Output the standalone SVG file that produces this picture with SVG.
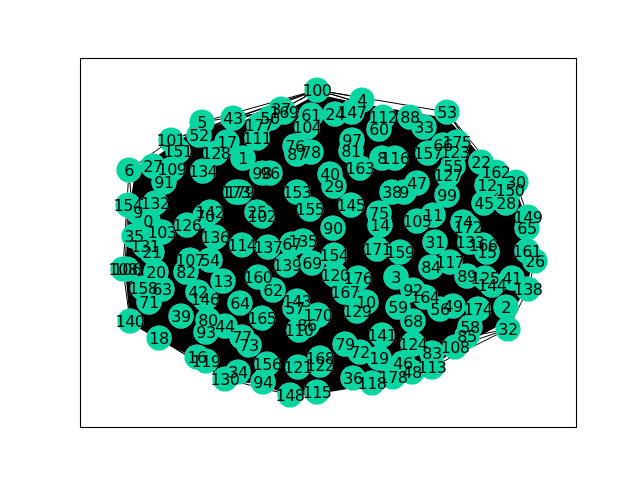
<svg xmlns="http://www.w3.org/2000/svg" width="640" height="480" viewBox="0 0 640 480">
<style>
.e{stroke:#000;stroke-width:1;fill:none}
.n circle{r:12.6px;mix-blend-mode:darken}
.n text{font:16px "DejaVu Sans",sans-serif;letter-spacing:-.5px;fill:#000;stroke:none;text-anchor:middle;dominant-baseline:central}
</style>
<defs><mask id="m" maskUnits="userSpaceOnUse" x="0" y="0" width="640" height="480"><rect width="640" height="480" fill="#fff"/><use href="#nodes" fill="#000"/></mask></defs>
<rect width="640" height="480" fill="#fff"/>
<rect x="80.5" y="58.5" width="496" height="369" fill="none" stroke="#000" stroke-width="1.1"/>
<g id="connectors" class="e" mask="url(#m)">
<path fill="#000" stroke="none" d="M317 94L362 104L447 118L481 156L516 190L526 217L533 262L526 289L506 322L455 349L432 369L393 379L372 385L317 394L290 397L263 384L225 381L197 359L159 340L130 323L125 269L130 205L135 172L171 146L202 127L233 122L281 114Z"/>
<path d="M317 90L447 112M317 90L424 122M317 90L410 117M317 90L362 98M317 90L233 118M317 90L202 122M317 90L281 110M317 90L255 125M317 90L199 135M317 90L171 140M317 90L300 100M447 112L481 162M447 112L486 166M447 112L496 172M506 203L528 217M516 182L528 217M510 190L535 262M528 217L535 262M535 262L528 289M528 289L508 329M506 307L508 329M508 329L455 347M508 329L432 367M508 329L467 337M508 329L478 309M455 347L432 367M455 347L393 377M432 367L372 383M413 372L353 378M393 377L317 392M372 383L290 395M353 378L263 382M317 392L263 382M290 395L225 379M263 382L197 357M225 379L159 338M206 361L159 338M197 357L130 321M159 338L130 321M159 338L123 269M130 321L123 269M130 321L128 205M149 302L128 205M123 269L129 170M134 236L129 170M128 205L153 166M129 170L171 140M153 166L202 122M178 151L233 118M171 140L233 118M202 122L281 110M233 118L281 110M153 166L199 135M129 170L178 151M130 321L134 236M143 288L128 205M125 269L128 205M197 357L206 361M130 321L225 379"/>
</g>
<g fill="#05d5a0"><g id="nodes">
<g id="n5" class="n"><circle cx="202" cy="122"/><text x="202" y="122">5</text></g>
<g id="n43" class="n"><circle cx="233" cy="118"/><text x="233" y="118">43</text></g>
<g id="n52" class="n"><circle cx="199" cy="135"/><text x="199" y="135">52</text></g>
<g id="n101" class="n"><circle cx="171" cy="140"/><text x="171" y="140">101</text></g>
<g id="n151" class="n"><circle cx="178" cy="151"/><text x="178" y="151">151</text></g>
<g id="n17" class="n"><circle cx="227" cy="142"/><text x="227" y="142">17</text></g>
<g id="n128" class="n"><circle cx="216" cy="153"/><text x="216" y="153">128</text></g>
<g id="n1" class="n"><circle cx="243" cy="158"/><text x="243" y="158">1</text></g>
<g id="n27" class="n"><circle cx="153" cy="166"/><text x="153" y="166">27</text></g>
<g id="n109" class="n"><circle cx="172" cy="169"/><text x="172" y="169">109</text></g>
<g id="n6" class="n"><circle cx="129" cy="170"/><text x="129" y="170">6</text></g>
<g id="n134" class="n"><circle cx="203" cy="171"/><text x="203" y="171">134</text></g>
<g id="n91" class="n"><circle cx="164" cy="182"/><text x="164" y="182">91</text></g>
<g id="n98" class="n"><circle cx="262" cy="173"/><text x="262" y="173">98</text></g>
<g id="n96" class="n"><circle cx="270" cy="173"/><text x="270" y="173">96</text></g>
<g id="n179" class="n"><circle cx="240" cy="192"/><text x="240" y="192">179</text></g>
<g id="n173" class="n"><circle cx="236" cy="192"/><text x="236" y="192">173</text></g>
<g id="n154" class="n"><circle cx="128" cy="205"/><text x="128" y="205">154</text></g>
<g id="n132" class="n"><circle cx="155" cy="203"/><text x="155" y="203">132</text></g>
<g id="n9" class="n"><circle cx="138" cy="212"/><text x="138" y="212">9</text></g>
<g id="n0" class="n"><circle cx="148" cy="221"/><text x="148" y="221">0</text></g>
<g id="n103" class="n"><circle cx="162" cy="232"/><text x="162" y="232">103</text></g>
<g id="n35" class="n"><circle cx="134" cy="236"/><text x="134" y="236">35</text></g>
<g id="n131" class="n"><circle cx="145" cy="246"/><text x="145" y="246">131</text></g>
<g id="n21" class="n"><circle cx="152" cy="252"/><text x="152" y="252">21</text></g>
<g id="n126" class="n"><circle cx="187" cy="225"/><text x="187" y="225">126</text></g>
<g id="n142" class="n"><circle cx="210" cy="212"/><text x="210" y="212">142</text></g>
<g id="n70" class="n"><circle cx="205" cy="216"/><text x="205" y="216">70</text></g>
<g id="n136" class="n"><circle cx="215" cy="237"/><text x="215" y="237">136</text></g>
<g id="n114" class="n"><circle cx="242" cy="245"/><text x="242" y="245">114</text></g>
<g id="n25" class="n"><circle cx="257" cy="212"/><text x="257" y="212">25</text></g>
<g id="n102" class="n"><circle cx="262" cy="216"/><text x="262" y="216">102</text></g>
<g id="n100" class="n"><circle cx="317" cy="90"/><text x="317" y="90">100</text></g>
<g id="n4" class="n"><circle cx="362" cy="100"/><text x="362" y="100">4</text></g>
<g id="n147" class="n"><circle cx="352" cy="112"/><text x="352" y="112">147</text></g>
<g id="n24" class="n"><circle cx="335" cy="114"/><text x="335" y="114">24</text></g>
<g id="n37" class="n"><circle cx="281" cy="109"/><text x="281" y="109">37</text></g>
<g id="n169" class="n"><circle cx="284" cy="112"/><text x="284" y="112">169</text></g>
<g id="n50" class="n"><circle cx="270" cy="118"/><text x="270" y="118">50</text></g>
<g id="n61" class="n"><circle cx="311" cy="115"/><text x="311" y="115">61</text></g>
<g id="n104" class="n"><circle cx="307" cy="127"/><text x="307" y="127">104</text></g>
<g id="n76" class="n"><circle cx="295" cy="146"/><text x="295" y="146">76</text></g>
<g id="n87" class="n"><circle cx="297" cy="154"/><text x="297" y="154">87</text></g>
<g id="n78" class="n"><circle cx="311" cy="152"/><text x="311" y="152">78</text></g>
<g id="n177" class="n"><circle cx="259" cy="125"/><text x="259" y="125">177</text></g>
<g id="n111" class="n"><circle cx="257" cy="138"/><text x="257" y="138">111</text></g>
<g id="n112" class="n"><circle cx="383" cy="117"/><text x="383" y="117">112</text></g>
<g id="n60" class="n"><circle cx="379" cy="129"/><text x="379" y="129">60</text></g>
<g id="n97" class="n"><circle cx="352" cy="140"/><text x="352" y="140">97</text></g>
<g id="n81" class="n"><circle cx="351" cy="151"/><text x="351" y="151">81</text></g>
<g id="n8" class="n"><circle cx="382" cy="158"/><text x="382" y="158">8</text></g>
<g id="n116" class="n"><circle cx="395" cy="158"/><text x="395" y="158">116</text></g>
<g id="n163" class="n"><circle cx="360" cy="168"/><text x="360" y="168">163</text></g>
<g id="n40" class="n"><circle cx="330" cy="174"/><text x="330" y="174">40</text></g>
<g id="n29" class="n"><circle cx="334" cy="186"/><text x="334" y="186">29</text></g>
<g id="n153" class="n"><circle cx="297" cy="192"/><text x="297" y="192">153</text></g>
<g id="n155" class="n"><circle cx="310" cy="209"/><text x="310" y="209">155</text></g>
<g id="n145" class="n"><circle cx="351" cy="205"/><text x="351" y="205">145</text></g>
<g id="n38" class="n"><circle cx="392" cy="192"/><text x="392" y="192">38</text></g>
<g id="n89b" class="n"><circle cx="404" cy="192"/><text x="404" y="192">9</text></g>
<g id="n47" class="n"><circle cx="417" cy="183"/><text x="417" y="183">47</text></g>
<g id="n75" class="n"><circle cx="379" cy="213"/><text x="379" y="213">75</text></g>
<g id="n14" class="n"><circle cx="380" cy="225"/><text x="380" y="225">14</text></g>
<g id="n90" class="n"><circle cx="333" cy="228"/><text x="333" y="228">90</text></g>
<g id="n105" class="n"><circle cx="417" cy="221"/><text x="417" y="221">105</text></g>
<g id="n11" class="n"><circle cx="433" cy="215"/><text x="433" y="215">11</text></g>
<g id="n53" class="n"><circle cx="447" cy="112"/><text x="447" y="112">53</text></g>
<g id="n88" class="n"><circle cx="410" cy="117"/><text x="410" y="117">88</text></g>
<g id="n33" class="n"><circle cx="424" cy="127"/><text x="424" y="127">33</text></g>
<g id="n157" class="n"><circle cx="428" cy="153"/><text x="428" y="153">157</text></g>
<g id="n66" class="n"><circle cx="443" cy="145"/><text x="443" y="145">66</text></g>
<g id="n175" class="n"><circle cx="457" cy="142"/><text x="457" y="142">175</text></g>
<g id="n123" class="n"><circle cx="455" cy="152"/><text x="455" y="152">123</text></g>
<g id="n55" class="n"><circle cx="453" cy="166"/><text x="453" y="166">55</text></g>
<g id="n127" class="n"><circle cx="448" cy="175"/><text x="448" y="175">127</text></g>
<g id="n99" class="n"><circle cx="447" cy="195"/><text x="447" y="195">99</text></g>
<g id="n22" class="n"><circle cx="481" cy="162"/><text x="481" y="162">22</text></g>
<g id="n162" class="n"><circle cx="496" cy="172"/><text x="496" y="172">162</text></g>
<g id="n12" class="n"><circle cx="487" cy="185"/><text x="487" y="185">12</text></g>
<g id="n30" class="n"><circle cx="516" cy="182"/><text x="516" y="182">30</text></g>
<g id="n150" class="n"><circle cx="510" cy="190"/><text x="510" y="190">150</text></g>
<g id="n45" class="n"><circle cx="484" cy="203"/><text x="484" y="203">45</text></g>
<g id="n28" class="n"><circle cx="506" cy="203"/><text x="506" y="203">28</text></g>
<g id="n149" class="n"><circle cx="528" cy="217"/><text x="528" y="217">149</text></g>
<g id="n65" class="n"><circle cx="527" cy="228"/><text x="527" y="228">65</text></g>
<g id="n74" class="n"><circle cx="463" cy="222"/><text x="463" y="222">74</text></g>
<g id="n172" class="n"><circle cx="468" cy="227"/><text x="468" y="227">172</text></g>
<g id="n31" class="n"><circle cx="435" cy="242"/><text x="435" y="242">31</text></g>
<g id="n133" class="n"><circle cx="470" cy="242"/><text x="470" y="242">133</text></g>
<g id="n166" class="n"><circle cx="483" cy="245"/><text x="483" y="245">166</text></g>
<g id="n15" class="n"><circle cx="487" cy="252"/><text x="487" y="252">15</text></g>
<g id="n161" class="n"><circle cx="527" cy="251"/><text x="527" y="251">161</text></g>
<g id="n26" class="n"><circle cx="535" cy="261"/><text x="535" y="261">26</text></g>
<g id="n159" class="n"><circle cx="400" cy="252"/><text x="400" y="252">159</text></g>
<g id="n84" class="n"><circle cx="431" cy="267"/><text x="431" y="267">84</text></g>
<g id="n117" class="n"><circle cx="450" cy="262"/><text x="450" y="262">117</text></g>
<g id="n89" class="n"><circle cx="467" cy="276"/><text x="467" y="276">89</text></g>
<g id="n125" class="n"><circle cx="485" cy="278"/><text x="485" y="278">125</text></g>
<g id="n144" class="n"><circle cx="492" cy="285"/><text x="492" y="285">144</text></g>
<g id="n41" class="n"><circle cx="512" cy="278"/><text x="512" y="278">41</text></g>
<g id="n138" class="n"><circle cx="528" cy="289"/><text x="528" y="289">138</text></g>
<g id="n3" class="n"><circle cx="396" cy="277"/><text x="396" y="277">3</text></g>
<g id="n92" class="n"><circle cx="413" cy="290"/><text x="413" y="290">92</text></g>
<g id="n164" class="n"><circle cx="425" cy="297"/><text x="425" y="297">164</text></g>
<g id="n56" class="n"><circle cx="440" cy="309"/><text x="440" y="309">56</text></g>
<g id="n49" class="n"><circle cx="453" cy="306"/><text x="453" y="306">49</text></g>
<g id="n174" class="n"><circle cx="478" cy="309"/><text x="478" y="309">174</text></g>
<g id="n2" class="n"><circle cx="506" cy="307"/><text x="506" y="307">2</text></g>
<g id="n32" class="n"><circle cx="508" cy="329"/><text x="508" y="329">32</text></g>
<g id="n59" class="n"><circle cx="398" cy="307"/><text x="398" y="307">59</text></g>
<g id="n68" class="n"><circle cx="413" cy="321"/><text x="413" y="321">68</text></g>
<g id="n58" class="n"><circle cx="470" cy="327"/><text x="470" y="327">58</text></g>
<g id="n85" class="n"><circle cx="467" cy="336"/><text x="467" y="336">85</text></g>
<g id="n108" class="n"><circle cx="455" cy="347"/><text x="455" y="347">108</text></g>
<g id="n124" class="n"><circle cx="413" cy="344"/><text x="413" y="344">124</text></g>
<g id="n83" class="n"><circle cx="432" cy="353"/><text x="432" y="353">83</text></g>
<g id="n113" class="n"><circle cx="432" cy="367"/><text x="432" y="367">113</text></g>
<g id="n46" class="n"><circle cx="403" cy="363"/><text x="403" y="363">46</text></g>
<g id="n48" class="n"><circle cx="412" cy="372"/><text x="412" y="372">48</text></g>
<g id="n178" class="n"><circle cx="393" cy="377"/><text x="393" y="377">178</text></g>
<g id="n137" class="n"><circle cx="268" cy="247"/><text x="268" y="247">137</text></g>
<g id="n67" class="n"><circle cx="292" cy="244"/><text x="292" y="244">67</text></g>
<g id="n135" class="n"><circle cx="303" cy="241"/><text x="303" y="241">135</text></g>
<g id="n139" class="n"><circle cx="287" cy="265"/><text x="287" y="265">139</text></g>
<g id="n69" class="n"><circle cx="312" cy="263"/><text x="312" y="263">69</text></g>
<g id="n154b" class="n"><circle cx="334" cy="255"/><text x="334" y="255">154</text></g>
<g id="n171" class="n"><circle cx="377" cy="249"/><text x="377" y="249">171</text></g>
<g id="n120" class="n"><circle cx="335" cy="275"/><text x="335" y="275">120</text></g>
<g id="n176" class="n"><circle cx="358" cy="278"/><text x="358" y="278">176</text></g>
<g id="n167" class="n"><circle cx="345" cy="292"/><text x="345" y="292">167</text></g>
<g id="n10" class="n"><circle cx="366" cy="302"/><text x="366" y="302">10</text></g>
<g id="n129" class="n"><circle cx="357" cy="311"/><text x="357" y="311">129</text></g>
<g id="n160" class="n"><circle cx="258" cy="277"/><text x="258" y="277">160</text></g>
<g id="n62" class="n"><circle cx="273" cy="290"/><text x="273" y="290">62</text></g>
<g id="n165" class="n"><circle cx="262" cy="318"/><text x="262" y="318">165</text></g>
<g id="n143" class="n"><circle cx="297" cy="301"/><text x="297" y="301">143</text></g>
<g id="n57" class="n"><circle cx="295" cy="308"/><text x="295" y="308">57</text></g>
<g id="n170" class="n"><circle cx="318" cy="315"/><text x="318" y="315">170</text></g>
<g id="n110" class="n"><circle cx="299" cy="330"/><text x="299" y="330">110</text></g>
<g id="n86" class="n"><circle cx="307" cy="325"/><text x="307" y="325">86</text></g>
<g id="n141" class="n"><circle cx="382" cy="335"/><text x="382" y="335">141</text></g>
<g id="n79" class="n"><circle cx="345" cy="344"/><text x="345" y="344">79</text></g>
<g id="n72" class="n"><circle cx="360" cy="352"/><text x="360" y="352">72</text></g>
<g id="n19" class="n"><circle cx="379" cy="358"/><text x="379" y="358">19</text></g>
<g id="n36" class="n"><circle cx="353" cy="378"/><text x="353" y="378">36</text></g>
<g id="n118" class="n"><circle cx="372" cy="383"/><text x="372" y="383">118</text></g>
<g id="n156" class="n"><circle cx="267" cy="364"/><text x="267" y="364">156</text></g>
<g id="n121" class="n"><circle cx="298" cy="367"/><text x="298" y="367">121</text></g>
<g id="n168" class="n"><circle cx="320" cy="358"/><text x="320" y="358">168</text></g>
<g id="n122" class="n"><circle cx="320" cy="365"/><text x="320" y="365">122</text></g>
<g id="n94" class="n"><circle cx="263" cy="382"/><text x="263" y="382">94</text></g>
<g id="n148" class="n"><circle cx="290" cy="395"/><text x="290" y="395">148</text></g>
<g id="n115" class="n"><circle cx="317" cy="392"/><text x="317" y="392">115</text></g>
<g id="n106" class="n"><circle cx="127" cy="269"/><text x="127" y="269">106</text></g>
<g id="n108b" class="n"><circle cx="123" cy="269"/><text x="123" y="269">108</text></g>
<g id="n20" class="n"><circle cx="156" cy="272"/><text x="156" y="272">20</text></g>
<g id="n107" class="n"><circle cx="190" cy="260"/><text x="190" y="260">107</text></g>
<g id="n54" class="n"><circle cx="210" cy="260"/><text x="210" y="260">54</text></g>
<g id="n82" class="n"><circle cx="186" cy="272"/><text x="186" y="272">82</text></g>
<g id="n13" class="n"><circle cx="223" cy="281"/><text x="223" y="281">13</text></g>
<g id="n158" class="n"><circle cx="143" cy="288"/><text x="143" y="288">158</text></g>
<g id="n63" class="n"><circle cx="162" cy="289"/><text x="162" y="289">63</text></g>
<g id="n71" class="n"><circle cx="149" cy="302"/><text x="149" y="302">71</text></g>
<g id="n42" class="n"><circle cx="198" cy="292"/><text x="198" y="292">42</text></g>
<g id="n146" class="n"><circle cx="205" cy="299"/><text x="205" y="299">146</text></g>
<g id="n64" class="n"><circle cx="240" cy="303"/><text x="240" y="303">64</text></g>
<g id="n140" class="n"><circle cx="130" cy="321"/><text x="130" y="321">140</text></g>
<g id="n39" class="n"><circle cx="181" cy="316"/><text x="181" y="316">39</text></g>
<g id="n80" class="n"><circle cx="208" cy="320"/><text x="208" y="320">80</text></g>
<g id="n93" class="n"><circle cx="206" cy="332"/><text x="206" y="332">93</text></g>
<g id="n44" class="n"><circle cx="225" cy="326"/><text x="225" y="326">44</text></g>
<g id="n18" class="n"><circle cx="159" cy="338"/><text x="159" y="338">18</text></g>
<g id="n77" class="n"><circle cx="242" cy="337"/><text x="242" y="337">77</text></g>
<g id="n73" class="n"><circle cx="249" cy="345"/><text x="249" y="345">73</text></g>
<g id="n16" class="n"><circle cx="197" cy="357"/><text x="197" y="357">16</text></g>
<g id="n119" class="n"><circle cx="206" cy="361"/><text x="206" y="361">119</text></g>
<g id="n130" class="n"><circle cx="225" cy="379"/><text x="225" y="379">130</text></g>
<g id="n34" class="n"><circle cx="238" cy="372"/><text x="238" y="372">34</text></g>
</g></g>
</svg>
